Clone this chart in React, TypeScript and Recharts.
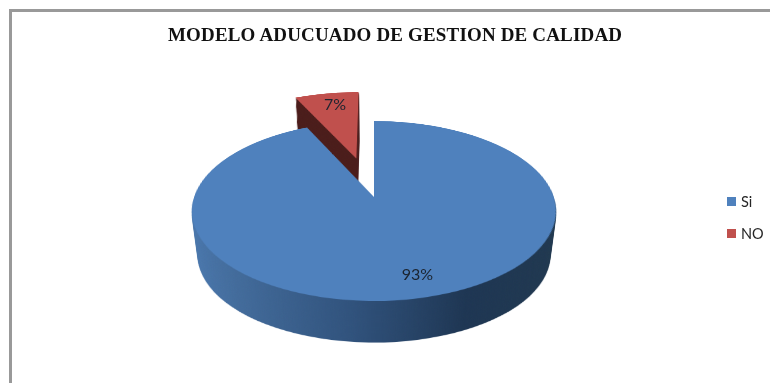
import { Legend, Pie, PieChart, Cell } from 'recharts'

const categories = ['Si', 'NO']
const shares = [93, 7]
const faceColors = ['#4f81bd', '#c0504d']
const wallColors = ['url(#blueWall)', '#4b1d1b']
const wallStops = [
  ['0%', '#4a78ae'],
  ['15%', '#436c9c'],
  ['45%', '#30527c'],
  ['72%', '#1e3653'],
  ['100%', '#20384f'],
]
const chartTitle = 'MODELO ADUCUADO DE GESTION DE CALIDAD'

const table = categories.map((name, i) => ({ name, value: shares[i] }))

// tilted disc: every layer is a flat pie pushed through the same projection
const SIZE = 600
const MID = SIZE / 2
const RADIUS = 180
const APEX_X = 373.5
const APEX_Y = 197
const TILT = `matrix3d(0.999,0,0,0, 0,0.4878,0,-0.000864, 0,0,1,0, 0,0,0,1)`
const DEPTH = 45
const FAR_SCALE = 0.967

// the small slice is pulled out along its bisector
const total = shares.reduce((a, b) => a + b, 0)
const bisector = ((shares[1] / total) * 360 * Math.PI) / 360
const PULL = RADIUS * 0.48
const pullX = -Math.sin(bisector) * PULL
const pullY = -Math.cos(bisector) * PULL

function PieLayer({ depth }: { depth: number }) {
  const t = depth / DEPTH
  const scale = 1 - (1 - FAR_SCALE) * t
  const colors = depth === 0 ? faceColors : wallColors
  return (
    <div
      style={{
        position: 'absolute',
        left: APEX_X - MID,
        top: APEX_Y - MID,
        width: SIZE,
        height: SIZE,
        transformOrigin: `${MID}px ${MID}px`,
        transform: `translateY(${depth}px) scale(${scale}) ${TILT}`,
      }}
    >
      <PieChart width={SIZE} height={SIZE} margin={{ top: 0, right: 0, bottom: 0, left: 0 }}>
        <defs>
          <linearGradient
            id="blueWall"
            gradientUnits="userSpaceOnUse"
            x1={MID - RADIUS}
            x2={MID + RADIUS}
            y1={0}
            y2={0}
          >
            {wallStops.map(([offset, color]) => (
              <stop key={offset} offset={offset} stopColor={color} />
            ))}
          </linearGradient>
        </defs>
        <Pie
          data={table}
          dataKey="value"
          cx={MID + pullX}
          cy={MID + pullY}
          outerRadius={RADIUS}
          startAngle={90}
          endAngle={-270}
          stroke="none"
          isAnimationActive={false}
        >
          <Cell fill="none" />
          <Cell fill={colors[1]} />
        </Pie>
        <Pie
          data={table}
          dataKey="value"
          cx={MID}
          cy={MID}
          outerRadius={RADIUS}
          startAngle={90}
          endAngle={-270}
          stroke="none"
          isAnimationActive={false}
        >
          <Cell fill={colors[0]} />
          <Cell fill="none" />
        </Pie>
      </PieChart>
    </div>
  )
}

const labelAt = [
  { x: 417.5, y: 273 },
  { x: 335, y: 103 },
]

function SliceLabel({ index, value }: { index: number; value: number }) {
  return (
    <text
      x={labelAt[index].x}
      y={labelAt[index].y}
      textAnchor="middle"
      dominantBaseline="central"
      fontFamily="Lato, sans-serif"
      fontSize={16}
      fill="#1b2430"
    >
      {`${value}%`}
    </text>
  )
}

function LegendBox() {
  return (
    <div style={{ fontFamily: 'Lato, sans-serif', fontSize: 14.5, color: '#262626' }}>
      {categories.map((name, i) => (
        <div key={name} style={{ display: 'flex', alignItems: 'center', height: 32 }}>
          <span style={{ width: 9, height: 9, background: faceColors[i], marginRight: 5 }} />
          {name}
        </div>
      ))}
    </div>
  )
}

export default function App() {
  const depths = Array.from({ length: DEPTH + 1 }, (_, i) => DEPTH - i)
  return (
    <div style={{ position: 'fixed', left: 0, top: 0, width: 770, height: 383, overflow: 'hidden', background: '#fff' }}>
      <div
        style={{
          position: 'absolute',
          left: 9,
          top: 9,
          right: -4,
          bottom: -4,
          borderLeft: '3px solid #999',
          borderTop: '3px solid #999',
        }}
      />
      {depths.map((depth) => (
        <PieLayer key={depth} depth={depth} />
      ))}
      <div style={{ position: 'absolute', left: 0, top: 0 }}>
        <PieChart width={770} height={383} margin={{ top: 0, right: 0, bottom: 0, left: 0 }}>
          <text
            x={395}
            y={34}
            textAnchor="middle"
            dominantBaseline="central"
            fontFamily="'Liberation Serif', serif"
            fontWeight="bold"
            fontSize={19}
            textLength={454}
            fill="#111"
          >
            {chartTitle}
          </text>
          <Pie
            data={table}
            dataKey="value"
            cx={APEX_X}
            cy={APEX_Y}
            outerRadius={1}
            startAngle={90}
            endAngle={-270}
            fill="none"
            stroke="none"
            labelLine={false}
            label={SliceLabel}
            isAnimationActive={false}
          />
          <Legend
            layout="vertical"
            content={LegendBox}
            wrapperStyle={{ position: 'absolute', left: 727, top: 185, width: 43, bottom: 'auto', right: 'auto' }}
          />
        </PieChart>
      </div>
    </div>
  )
}
